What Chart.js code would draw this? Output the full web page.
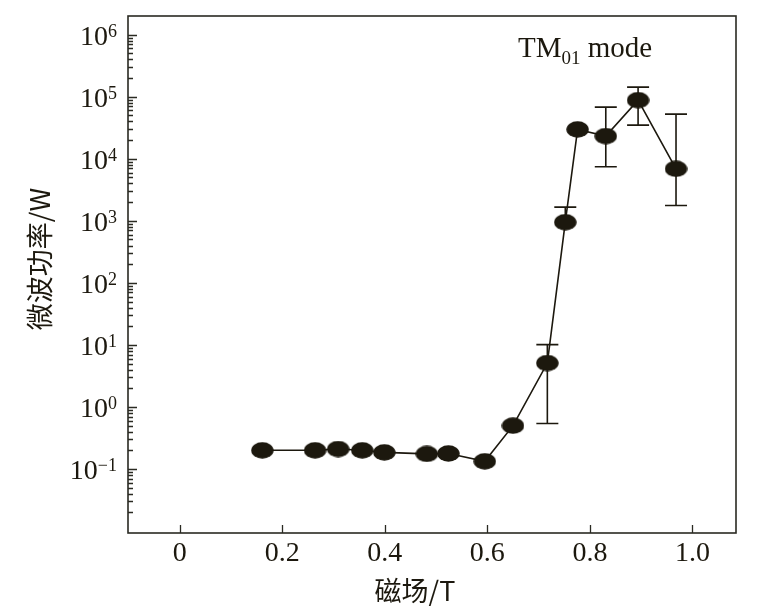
<!DOCTYPE html>
<html>
<head>
<meta charset="utf-8">
<script src="https://cdn.jsdelivr.net/npm/chart.js@4.4.1/dist/chart.umd.min.js"></script>
<style>
  body { margin: 0; background: #fff; }
  #chart { display: block; }
</style>
</head>
<body>
<canvas id="chart" width="778" height="610"></canvas>
<script>
// magnetic field (T) and microwave power (W)
const fields = [0.161, 0.264, 0.309, 0.356, 0.399, 0.482, 0.524, 0.595, 0.650, 0.717, 0.752, 0.776, 0.831, 0.894, 0.968];
const power = [0.2, 0.2, 0.21, 0.2, 0.185, 0.175, 0.178, 0.133, 0.50, 5.1, 950, 29700, 23200, 88000, 6900];
const errLow = [null, null, null, null, null, null, null, null, null, 0.54, null, null, 7430, 34800, 1770];
const errHigh = [null, null, null, null, null, null, null, null, null, 10.1, 1660, null, 68000, 143000, 52400];

const xTicks = [0, 0.2, 0.4, 0.6, 0.8, 1.0];
const xTickLabels = ['0', '0.2', '0.4', '0.6', '0.8', '1.0'];
const yExponents = [-1, 0, 1, 2, 3, 4, 5, 6];

const ink = '#1c180e';
const serif = '"Liberation Serif", "Times New Roman", serif';
const cjk = '"Noto Sans CJK SC", sans-serif';

// ellipse marker
const marker = document.createElement('canvas');
marker.width = 23;
marker.height = 17;
const mctx = marker.getContext('2d');
mctx.fillStyle = ink;
mctx.beginPath();
mctx.ellipse(11.5, 8.5, 11.2, 8.2, 0, 0, Math.PI * 2);
mctx.fill();

const errorBars = {
  id: 'errorBars',
  beforeDatasetsDraw(chart) {
    const ctx = chart.ctx;
    const xs = chart.scales.x, ys = chart.scales.y;
    ctx.save();
    ctx.strokeStyle = ink;
    ctx.lineWidth = 1.6;
    fields.forEach((f, i) => {
      const px = xs.getPixelForValue(f);
      const py = ys.getPixelForValue(power[i]);
      [errLow[i], errHigh[i]].forEach(v => {
        if (v === null) return;
        const ey = ys.getPixelForValue(v);
        ctx.beginPath();
        ctx.moveTo(px, py);
        ctx.lineTo(px, ey);
        ctx.moveTo(px - 11, ey);
        ctx.lineTo(px + 11, ey);
        ctx.stroke();
      });
    });
    ctx.restore();
  }
};

const frame = {
  id: 'frame',
  afterDraw(chart) {
    const ctx = chart.ctx;
    const a = chart.chartArea;
    const xs = chart.scales.x, ys = chart.scales.y;
    ctx.save();
    ctx.strokeStyle = '#2a2a22';
    ctx.lineWidth = 1.6;
    ctx.strokeRect(a.left, a.top, a.right - a.left, a.bottom - a.top);

    // x ticks, pointing inward
    ctx.beginPath();
    xTicks.forEach(t => {
      const px = Math.round(xs.getPixelForValue(t)) + 0.5;
      ctx.moveTo(px, a.bottom);
      ctx.lineTo(px, a.bottom - 8);
    });
    // y log ticks
    for (let e = -3; e <= 6; e++) {
      for (let m = 1; m <= 9; m++) {
        const v = m * Math.pow(10, e);
        if (v < ys.min || v > ys.max) continue;
        const py = Math.round(ys.getPixelForValue(v)) + 0.5;
        if (py > a.bottom - 4 || py < a.top + 4) continue;
        ctx.moveTo(a.left, py);
        ctx.lineTo(a.left + (m === 1 ? 9 : 5), py);
      }
    }
    ctx.lineWidth = 1.3;
    ctx.stroke();

    ctx.fillStyle = ink;
    // x tick labels
    ctx.font = '28px ' + serif;
    ctx.textAlign = 'center';
    ctx.textBaseline = 'alphabetic';
    xTicks.forEach((t, i) => {
      ctx.fillText(xTickLabels[i], xs.getPixelForValue(t), 561);
    });

    // y tick labels 10^n
    yExponents.forEach(e => {
      const py = ys.getPixelForValue(Math.pow(10, e));
      const sup = e < 0 ? '\u2212' + (-e) : String(e);
      ctx.font = '18px ' + serif;
      const w2 = ctx.measureText(sup).width;
      ctx.textAlign = 'left';
      ctx.fillText(sup, 117 - w2, py + 2);
      ctx.font = '28px ' + serif;
      ctx.textAlign = 'right';
      ctx.fillText('10', 117 - w2, py + 10);
    });

    // annotation
    ctx.textAlign = 'left';
    ctx.font = '29px ' + serif;
    ctx.fillText('TM', 518, 57);
    let w = ctx.measureText('TM').width;
    ctx.font = '19px ' + serif;
    ctx.fillText('01', 518 + w, 64);
    w += ctx.measureText('01').width;
    ctx.font = '29px ' + serif;
    ctx.fillText(' mode', 518 + w, 57);

    // axis titles
    ctx.font = '27px ' + cjk;
    ctx.textAlign = 'center';
    ctx.textBaseline = 'middle';
    ctx.fillText('磁场/T', 415, 591);
    ctx.save();
    ctx.translate(40, 259);
    ctx.rotate(-Math.PI / 2);
    ctx.fillText('微波功率/W', 0, 0);
    ctx.restore();
    ctx.restore();
  }
};

new Chart(document.getElementById('chart').getContext('2d'), {
  type: 'line',
  data: {
    datasets: [{
      data: fields.map((f, i) => ({ x: f, y: power[i] })),
      borderColor: ink,
      borderWidth: 1.6,
      pointStyle: marker,
      tension: 0
    }]
  },
  options: {
    responsive: false,
    devicePixelRatio: 1,
    animation: false,
    layout: { padding: { left: 128, top: 16, right: 42, bottom: 77 } },
    scales: {
      x: { type: 'linear', min: -0.101, max: 1.085, display: false },
      y: { type: 'logarithmic', min: 0.0093, max: 2e6, display: false }
    },
    plugins: {
      legend: { display: false },
      tooltip: { enabled: false }
    }
  },
  plugins: [errorBars, frame]
});
</script>
</body>
</html>
